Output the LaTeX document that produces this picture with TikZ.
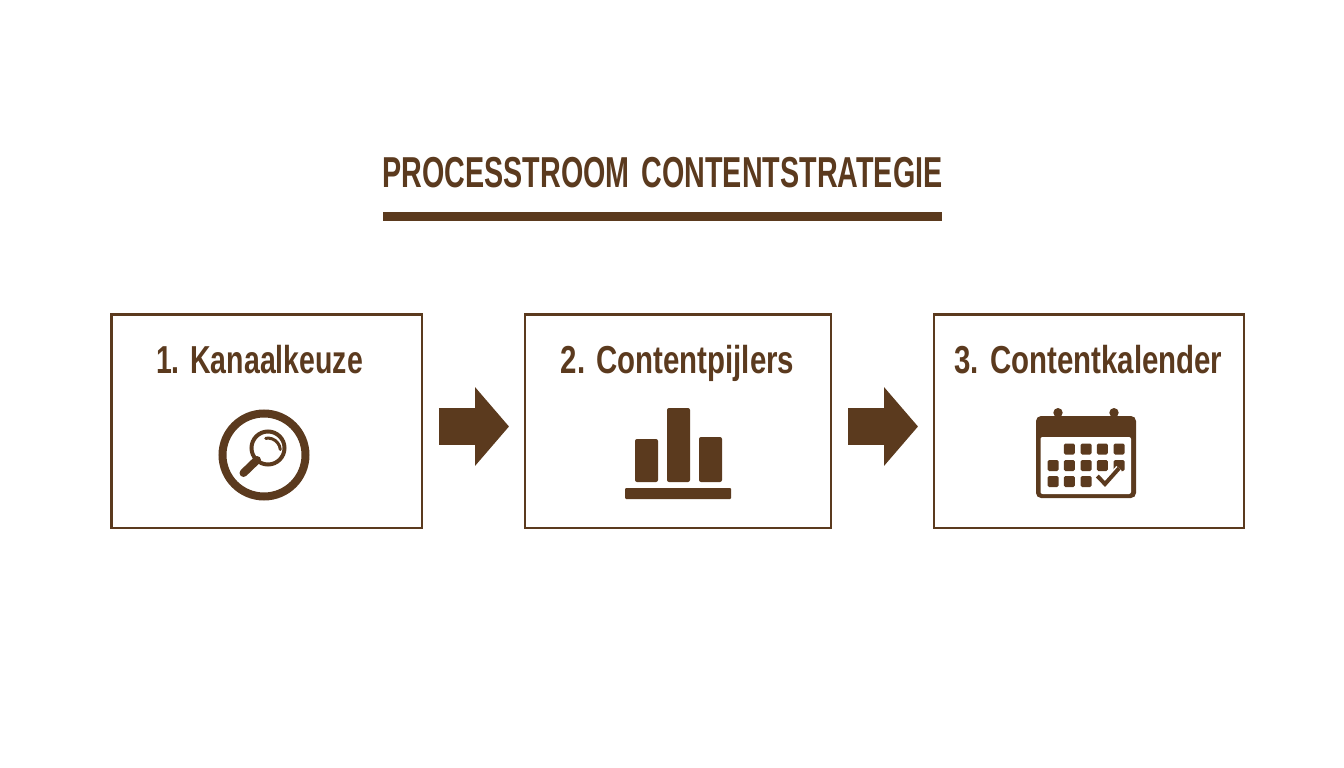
\documentclass[tikz,border=0pt]{standalone}
\usepackage{fontspec}
\usepackage{tikz}
\usetikzlibrary{arrows.meta}
\setmainfont[FakeStretch=0.663]{Liberation Sans}
\newfontfamily\narrowfont[FakeStretch=0.73]{Liberation Sans}
\newfontfamily\widefont[FakeStretch=0.755]{Liberation Sans}
\definecolor{brownink}{HTML}{5B3A1E}
\tikzset{
    stepbox/.style={draw=brownink,line width=2.5pt,minimum height=213.5pt,outer sep=0pt,inner sep=0pt},
    steplabel/.style={text=brownink,font=\fontsize{39}{42}\selectfont\bfseries,inner sep=0pt,anchor=base},
    flowarrow/.style={draw=brownink,line width=36.5pt,-{Triangle[length=34pt,width=77pt,fill=brownink]},shorten <=17pt,shorten >=16pt}
}
\begin{document}
\begin{tikzpicture}[x=1pt,y=-1pt]
        \useasboundingbox (0,0) rectangle (1344,768);
        % Title
        \node[text=brownink,font=\fontsize{43.3}{46}\selectfont\bfseries,inner sep=0pt,anchor=base] (title) at (662.5,187) {PROCESSTROOM\hspace{4pt} CONTENTSTRATEGIE};
        \fill[brownink] (382.5,212) rectangle (942,220.5);
        % Boxes
        \node[stepbox,minimum width=310.5pt] (box1) at (266.7,421) {};
        \node[stepbox,minimum width=306pt] (box2) at (678,421) {};
        \node[stepbox,minimum width=310pt] (box3) at (1089,421) {};
        \node[steplabel] (label1) at (259.5,373.5) {\narrowfont\bfseries 1. Kanaalkeuze};
        \node[steplabel] (label2) at (677.5,373.5) {\widefont\bfseries 2. Contentpijlers};
        \node[steplabel] (label3) at (1088.5,373.5) {\widefont\bfseries 3. Contentkalender};
        % Arrows
        \draw[flowarrow] ([yshift=-5.5pt]box1.east) -- ([yshift=-5.5pt]box2.west);
        \draw[flowarrow] ([yshift=-5.5pt]box2.east) -- ([yshift=-5.5pt]box3.west);
        % Magnifier
        \draw[brownink,line width=8pt] (264,455) circle (41.5);
        \draw[brownink,line width=4pt] (268,448) circle (16.5);
        \draw[brownink,line width=8pt,line cap=round] (257,460) -- (243.5,473);
        \draw[brownink,line width=3pt,line cap=round] (265.7,438.3) arc (-100:-5:12.5);
        % Bars
        \fill[brownink,rounded corners=2pt] (635,439) rectangle (658,482);
        \fill[brownink,rounded corners=2pt] (667,408) rectangle (690,482);
        \fill[brownink,rounded corners=2pt] (699,437) rectangle (722,482);
        \fill[brownink,rounded corners=1pt] (625,488) rectangle (731,499);
        % Calendar
        \fill[brownink] (1058,412.7) circle (4.7) (1114,412.7) circle (4.7);
        \fill[brownink,rounded corners=5pt] (1036,416) rectangle (1136,498);
        \fill[white,rounded corners=2pt] (1040.5,437) rectangle (1131,494);
        \foreach \x in {1069.3,1086,1102.3,1119}
            \fill[brownink,rounded corners=1.5pt] (\x-5.5,443.5) rectangle (\x+5.5,454.5);
        \foreach \x in {1053,1069.3,1086,1102.3,1119}
            \fill[brownink,rounded corners=1.5pt] (\x-5.5,460) rectangle (\x+5.5,471);
        \foreach \x in {1053,1069.3,1086}
            \fill[brownink,rounded corners=1.5pt] (\x-5.5,476) rectangle (\x+5.5,487);
        \draw[white,line width=7pt] (1097.3,476) -- (1105,484) -- (1119,468.3);
        \draw[brownink,line width=4pt] (1097.3,476) -- (1105,484) -- (1119,468.3);
    \end{tikzpicture}
\end{document}
